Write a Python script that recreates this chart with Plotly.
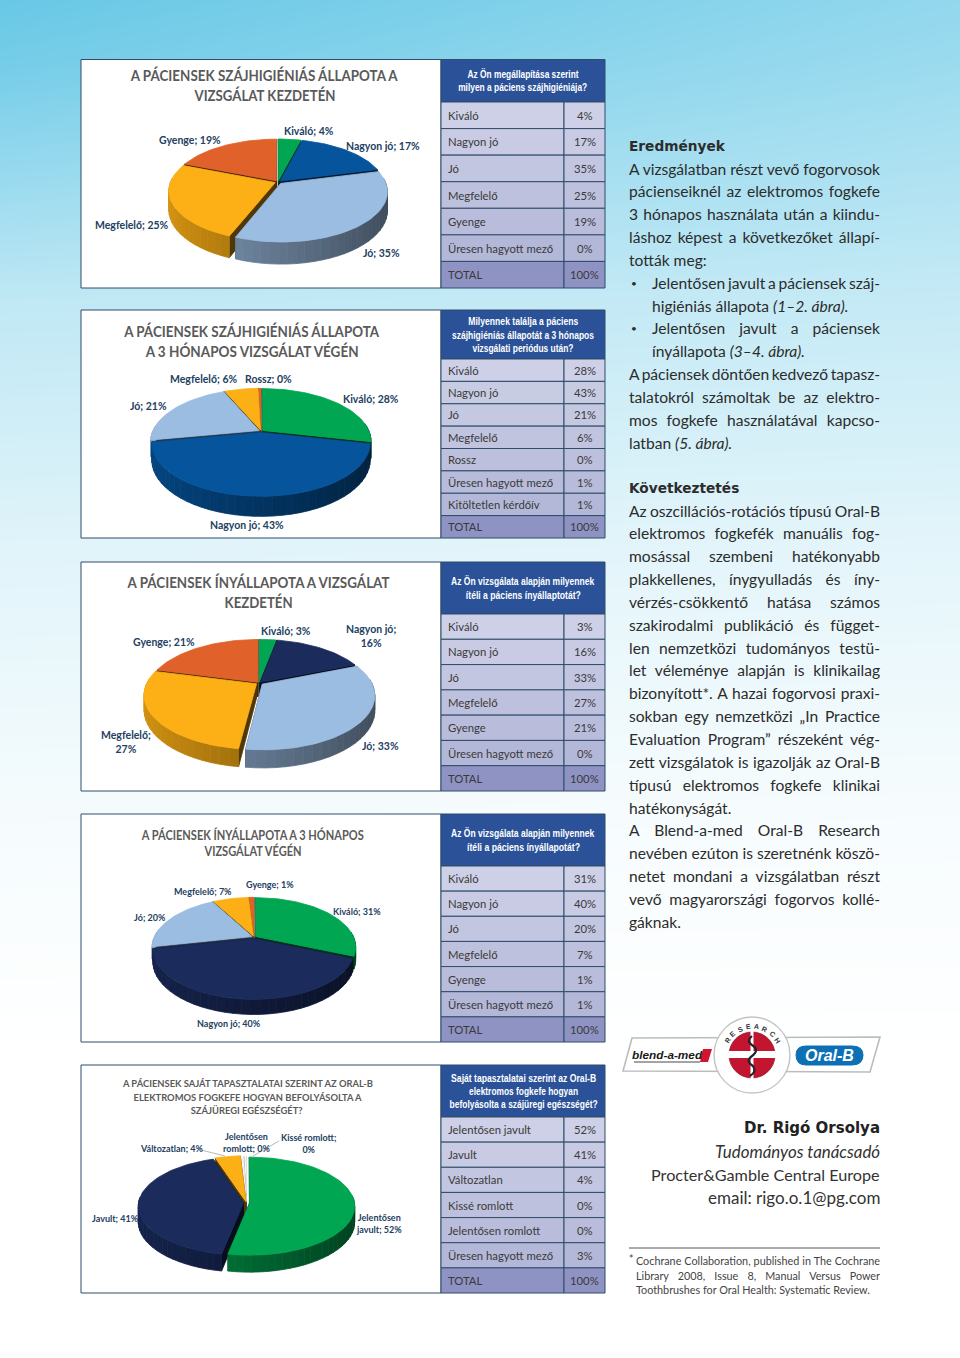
import json
import math
import plotly.graph_objects as go

# ---------- data ----------
C1_CATS = ["Kiváló", "Nagyon jó", "Jó", "Megfelelő", "Gyenge"]
C1_VALS = [4, 17, 35, 25, 19]
C2_CATS = ["Kiváló", "Nagyon jó", "Jó", "Megfelelő", "Rossz"]
C2_VALS = [28, 43, 21, 6, 0]
C3_CATS = ["Kiváló", "Nagyon jó", "Jó", "Megfelelő", "Gyenge"]
C3_VALS = [3, 16, 33, 27, 21]
C4_CATS = ["Kiváló", "Nagyon jó", "Jó", "Megfelelő", "Gyenge"]
C4_VALS = [31, 40, 20, 7, 1]
C5_CATS = ["Jelentősen javult", "Javult", "Változatlan", "Kissé romlott", "Jelentősen romlott"]
C5_VALS = [52, 41, 4, 0, 0]

T1_ROWS = ["Kiváló", "Nagyon jó", "Jó", "Megfelelő", "Gyenge", "Üresen hagyott mező", "TOTAL"]
T1_VALS = ["4%", "17%", "35%", "25%", "19%", "0%", "100%"]
T2_ROWS = ["Kiváló", "Nagyon jó", "Jó", "Megfelelő", "Rossz", "Üresen hagyott mező", "Kitöltetlen kérdőív", "TOTAL"]
T2_VALS = ["28%", "43%", "21%", "6%", "0%", "1%", "1%", "100%"]
T3_ROWS = T1_ROWS
T3_VALS = ["3%", "16%", "33%", "27%", "21%", "0%", "100%"]
T4_ROWS = T1_ROWS
T4_VALS = ["31%", "40%", "20%", "7%", "1%", "1%", "100%"]
T5_ROWS = ["Jelentősen javult", "Javult", "Változatlan", "Kissé romlott", "Jelentősen romlott", "Üresen hagyott mező", "TOTAL"]
T5_VALS = ["52%", "41%", "4%", "0%", "0%", "3%", "100%"]

H1 = [("Az Ön megállapítása szerint", 111), ("milyen a páciens szájhigiéniája?", 129)]
H2 = [("Milyennek találja a páciens", 110), ("szájhigiéniás állapotát a 3 hónapos", 142), ("vizsgálati periódus után?", 101)]
H3 = [("Az Ön vizsgálata alapján milyennek", 143), ("ítéli a páciens ínyállaptotát?", 115)]
H4 = [("Az Ön vizsgálata alapján milyennek", 143), ("ítéli a páciens ínyállapotát?", 113)]
H5 = [("Saját tapasztalatai szerint az Oral-B", 145), ("elektromos fogkefe hogyan", 109), ("befolyásolta a szájüregi egészségét?", 148)]

TITLE1 = [("A PÁCIENSEK SZÁJHIGIÉNIÁS ÁLLAPOTA A", 267), ("VIZSGÁLAT KEZDETÉN", 141)]
TITLE2 = [("A PÁCIENSEK SZÁJHIGIÉNIÁS ÁLLAPOTA", 255), ("A 3 HÓNAPOS VIZSGÁLAT VÉGÉN", 213)]
TITLE3 = [("A PÁCIENSEK ÍNYÁLLAPOTA A VIZSGÁLAT", 262), ("KEZDETÉN", 68)]
TITLE4 = [("A PÁCIENSEK ÍNYÁLLAPOTA A 3 HÓNAPOS", 222), ("VIZSGÁLAT VÉGÉN", 97)]
TITLE5 = [("A PÁCIENSEK SAJÁT TAPASZTALATAI SZERINT AZ ORAL-B", 250),
          ("ELEKTROMOS FOGKEFE HOGYAN BEFOLYÁSOLTA A", 228), ("SZÁJÜREGI EGÉSZSÉGÉT?", 112)]

L1 = [("Kiváló; 4%", 309, 131), ("Nagyon jó; 17%", 383, 146), ("Jó; 35%", 381, 253),
      ("Megfelelő; 25%", 132, 225), ("Gyenge; 19%", 190, 140)]
L2 = [("Kiváló; 28%", 371, 399), ("Nagyon jó; 43%", 247, 525), ("Jó; 21%", 148, 406),
      ("Megfelelő; 6%", 203, 379), ("Rossz; 0%", 268, 379)]
L3 = [("Kiváló; 3%", 286, 631), ("Nagyon jó;<br>16%", 371, 636), ("Jó; 33%", 380, 746),
      ("Megfelelő;<br>27%", 126, 742), ("Gyenge; 21%", 164, 642)]
L4 = [("Kiváló; 31%", 357, 911), ("Nagyon jó; 40%", 229, 1023), ("Jó; 20%", 150, 917),
      ("Megfelelő; 7%", 203, 891), ("Gyenge; 1%", 270, 884)]
L5 = [("Jelentősen<br>javult; 52%", 379, 1223), ("Javult; 41%", 115, 1218), ("Változatlan; 4%", 171, 1148),
      ("Kissé romlott;<br>0%", 308, 1143), ("Jelentősen<br>romlott; 0%", 246, 1142)]

RESULT_LINES = [
    ("A vizsgálatban részt vevő fogorvosok", 1), ("pácienseiknél az elektromos fogkefe", 1),
    ("3 hónapos használata után a kiindu-", 1), ("láshoz képest a következőket állapí-", 1),
    ("tották meg:", 0), ("Jelentősen javult a páciensek száj-", 2), ("higiéniás állapota <i>(1–2. ábra).</i>", 3),
    ("Jelentősen javult a páciensek", 2), ("ínyállapota <i>(3–4. ábra).</i>", 3),
    ("A páciensek döntően kedvező tapasz-", 1), ("talatokról számoltak be az elektro-", 1),
    ("mos fogkefe használatával kapcso-", 1), ("latban <i>(5. ábra).</i>", 0),
]
CONCL_LINES = [
    "Az oszcillációs-rotációs típusú Oral-B", "elektromos fogkefék manuális fog-",
    "mosással szembeni hatékonyabb", "plakkellenes, ínygyulladás és íny-",
    "vérzés-csökkentő hatása számos", "szakirodalmi publikáció és függet-",
    "len nemzetközi tudományos testü-", "let véleménye alapján is klinikailag",
    "bizonyított*. A hazai fogorvosi praxi-", "sokban egy nemzetközi „In Practice",
    "Evaluation Program” részeként vég-", "zett vizsgálatok is igazolják az Oral-B",
    "típusú elektromos fogkefe klinikai", "hatékonyságát.",
    "A Blend-a-med Oral-B Research", "nevében ezúton is szeretnénk köszö-",
    "netet mondani a vizsgálatban részt", "vevő magyarországi fogorvos kollé-", "gáknak.",
]
CONCL_NOJUST = {"hatékonyságát.", "gáknak."}
FOOT_LINES = ["Cochrane Collaboration, published in The Cochrane",
              "Library 2008, Issue 8, Manual Versus Power",
              "Toothbrushes for Oral Health: Systematic Review."]

# background strength stops
BG_Y = [0, 60, 300, 550, 800, 1050, 1358]
BG_LEFT = [1.0, 0.92, 0.42, 0.20, 0.07, 0.0, 0.0]
BG_RIGHT = [0.72, 0.66, 0.38, 0.18, 0.06, 0.0, 0.0]

# ---------- styles ----------
GREEN, BLUE, LIGHT, AMBER, ORANGE, NAVY = "#00a651", "#05549c", "#9cbde2", "#fdb015", "#e0612a", "#1a2b5c"
PALE = "#f4f4f4"
SANS = "Lato"
NARROW = "Liberation Sans"
INK = "#2c2c2c"
LABEL = "#22405f"
BORDER = "#2f4c68"

fig = go.Figure()
ann = []
shapes = []
just = {}
fit = {}


def txt(x, y, s, size, color=INK, family=SANS, anchor="left", angle=0):
    ann.append(dict(x=x, y=y, text=s, xref="x", yref="y", showarrow=False, xanchor=anchor, yanchor="middle",
                    align=anchor, textangle=angle, borderpad=0, font=dict(size=size, color=color, family=family)))


def rgb(h, f=1.0):
    return "rgb(%d,%d,%d)" % tuple(min(255, int(int(h[i:i + 2], 16) * f)) for i in (1, 3, 5))


def poly(xs, ys, color, line=None, lw=0.8, name=None):
    fig.add_trace(go.Scatter(x=xs, y=ys, mode="lines", fill="toself", fillcolor=color, name=name,
                             line=dict(color=line or color, width=lw), hoverinfo="skip", showlegend=False))


def rect(x0, y0, x1, y1, color, line=None, lw=1):
    poly([x0, x1, x1, x0, x0], [y0, y0, y1, y1, y0], color, line, lw)


def pie(vals, cats, colors, cx, cy, rx, top, front, depth, explode):
    p = (front - top) / (front + top)
    ry = top * (1 + p)
    wall = depth * (1 - p)
    drawn = [max(v, 0.45) for v in vals]
    total = sum(drawn)

    def proj(dx, dy, z=0.0):
        s = 1 / (1 - p * dy / ry)
        return cx + dx * s, cy + dy * s + z * s

    start = 0.0
    sl = []
    for v, c, n, e in zip(drawn, colors, cats, explode):
        a0, a1 = start, start + v / total * 2 * math.pi
        start = a1
        sl.append((a0, a1, c, n, e))
    sl.sort(key=lambda s: -math.cos((s[0] + s[1]) / 2))
    for a0, a1, c, n, e in sl:
        mid = (a0 + a1) / 2
        ox, oy = e * math.sin(mid), -e * math.cos(mid) * ry / rx
        pt = lambda a: (ox + rx * math.sin(a), oy - ry * math.cos(a))
        for a in (a0, a1):
            dx, dy = pt(a)
            q = [proj(ox, oy), proj(dx, dy), proj(dx, dy, wall), proj(ox, oy, wall)]
            poly([k[0] for k in q] + [q[0][0]], [k[1] for k in q] + [q[0][1]], rgb(c, 0.32))
        n_seg = max(2, int((a1 - a0) / (2 * math.pi) * 90))
        for i in range(n_seg):
            b0 = a0 + (a1 - a0) * i / n_seg
            b1 = a0 + (a1 - a0) * (i + 1) / n_seg
            if math.cos((b0 + b1) / 2) > 0.12:
                continue
            steps = [b0 + (b1 - b0) * j / 3 for j in range(4)]
            upper = [proj(*pt(b)) for b in steps]
            lower = [proj(*pt(b), wall) for b in reversed(steps)]
            f = 0.62 - 0.22 * math.sin((b0 + b1) / 2)
            q = upper + lower + [upper[0]]
            poly([k[0] for k in q], [k[1] for k in q], rgb(c, f))
        seg = max(3, int((a1 - a0) * 30))
        q = [proj(ox, oy)] + [proj(*pt(a0 + (a1 - a0) * j / seg)) for j in range(seg + 1)] + [proj(ox, oy)]
        poly([k[0] for k in q], [k[1] for k in q], c, name=n)


def table(x0, xm, x1, y0, yh, y1, rows, vals, head):
    nr = len(rows)
    rect(x0, y0, x1, yh, "#2b5298", BORDER, 1)
    mid = (y0 + yh) / 2
    for i, (h, w) in enumerate(head):
        s = "<b>%s</b>" % h
        txt((x0 + x1) / 2, mid + (i - (len(head) - 1) / 2) * 13.4, s, 11, "#ffffff", NARROW, "center")
        fit[s] = w
    rh = (y1 - yh) / nr
    for i, (r, v) in enumerate(zip(rows, vals)):
        t = i / max(1, nr - 2)
        base = "#8f93c4" if r == "TOTAL" else "#%02x%02x%02x" % (int(205 - 25 * t), int(208 - 24 * t), int(230 - 14 * t))
        ya, yb = yh + i * rh, yh + (i + 1) * rh
        rect(x0, ya, xm, yb, base, BORDER, 1)
        rect(xm, ya, x1, yb, base, BORDER, 1)
        txt(x0 + 6, (ya + yb) / 2, r, 11.3, "#3a3a3a")
        txt((xm + x1) / 2, (ya + yb) / 2, v, 11.3, "#3a3a3a", anchor="center")


# ---------- background ----------
fig.add_trace(go.Heatmap(x=[0, 960], y=BG_Y, z=[[a, b] for a, b in zip(BG_LEFT, BG_RIGHT)], zmin=0, zmax=1,
                         zsmooth="best", showscale=False, hoverinfo="skip",
                         colorscale=[[0, "#ffffff"], [1, "#68c8e6"]]))

# ---------- panels ----------
PANELS = [
    dict(y0=59.5, yh=102, y1=288, rows=T1_ROWS, vals=T1_VALS, head=H1, title=TITLE1, tx=264, ty=[75, 95], ts=15,
         cats=C1_CATS, v=C1_VALS, col=[GREEN, BLUE, LIGHT, AMBER, ORANGE], g=(278, 182, 104.8, 42, 58, 22), ex=[3, 3, 4, 3, 3], lab=L1, ls=10.5),
    dict(y0=310, yh=359, y1=538, rows=T2_ROWS, vals=T2_VALS, head=H2, title=TITLE2, tx=251, ty=[331, 351], ts=15,
         cats=C2_CATS, v=C2_VALS, col=[GREEN, BLUE, LIGHT, AMBER, ORANGE], g=(261, 431, 106.4, 42, 63, 20), ex=[2, 3, 2, 2, 2], lab=L2, ls=10.5),
    dict(y0=562, yh=614, y1=791, rows=T3_ROWS, vals=T3_VALS, head=H3, title=TITLE3, tx=258, ty=[582, 602], ts=15,
         cats=C3_CATS, v=C3_VALS, col=[GREEN, NAVY, LIGHT, AMBER, ORANGE], g=(259, 683, 109.6, 43, 65, 18), ex=[2, 2, 4, 3, 2], lab=L3, ls=10.5),
    dict(y0=814, yh=866, y1=1042, rows=T4_ROWS, vals=T4_VALS, head=H4, title=TITLE4, tx=252, ty=[835, 851], ts=12.5,
         cats=C4_CATS, v=C4_VALS, col=[GREEN, NAVY, LIGHT, AMBER, ORANGE], g=(254, 937, 97.9, 39, 60, 15), ex=[2, 3, 2, 2, 2], lab=L4, ls=9),
    dict(y0=1065, yh=1117, y1=1293, rows=T5_ROWS, vals=T5_VALS, head=H5, title=TITLE5, tx=247, ty=[1083, 1097, 1110], ts=9.8,
         cats=C5_CATS, v=C5_VALS, col=[GREEN, NAVY, AMBER, PALE, PALE], g=(246.5, 1203, 105, 46, 52, 17), ex=[3, 3, 3, 2, 2], lab=L5, ls=9),
]

for P in PANELS:
    rect(81, P["y0"], 441, P["y1"], "#ffffff", BORDER, 1)
    table(441, 564, 605, P["y0"], P["yh"], P["y1"], P["rows"], P["vals"], P["head"])
    for (s, w), y in zip(P["title"], P["ty"]):
        b = "<b>%s</b>" % s
        txt(P["tx"], y, b, P["ts"], "#5a5a5a", anchor="center")
        fit[b] = w
    cx, cy, rx, top, front, depth = P["g"]
    pie(P["v"], P["cats"], P["col"], cx, cy, rx, top, front, depth, P["ex"])
    for s, x, y in P["lab"]:
        txt(x, y, "<b>%s</b>" % s, P["ls"], LABEL, anchor="center")

for x0, y0, x1, y1 in [(201, 1150, 225, 1156), (253, 1156, 279, 1141)]:
    shapes.append(dict(type="line", xref="x", yref="y", x0=x0, y0=y0, x1=x1, y1=y1,
                       line=dict(color="#a6a6a6", width=0.8)))

# ---------- right column ----------
TX, TR = 628, 880
BODY = 15.6
txt(TX, 145.5, "<b>Eredmények</b>", 13.7, INK, "DejaVu Sans")
y = 168.5
for s, kind in RESULT_LINES:
    if kind == 1:
        txt(TX, y, s, BODY)
        just[s] = TR - TX - 1
    elif kind == 0:
        txt(TX, y, s, BODY)
    else:
        txt(651, y, s, BODY)
        if kind == 2:
            just[s] = TR - 652
            txt(630, y, "•", 10)
    y += 22.85
txt(TX, 487.5, "<b>Következtetés</b>", 13.7, INK, "DejaVu Sans")
y = 510.5
for s in CONCL_LINES:
    txt(TX, y, s, BODY)
    if s not in CONCL_NOJUST:
        just[s] = TR - TX - 1
    y += 22.85

# ---------- logo ----------
shapes.append(dict(type="path", path="M 623 1071 L 632 1038 L 880 1037 L 870 1072 Z", xref="x", yref="y",
                   fillcolor="#ffffff", line=dict(color="#bcbcbc", width=1.6)))
shapes.append(dict(type="circle", xref="x", yref="y", x0=714, y0=1017, x1=790, y1=1093,
                   fillcolor="#ffffff", line=dict(color="#c4c4c4", width=1.4)))
shapes.append(dict(type="path", path="M 722 1039 L 782 1039 L 782 1071 L 722 1071 Z", xref="x", yref="y",
                   fillcolor="#ffffff", line=dict(width=0)))
shapes.append(dict(type="circle", xref="x", yref="y", x0=729, y0=1032, x1=775, y1=1078,
                   fillcolor="#c3152f", line=dict(color="#8f1022", width=0.8)))
shapes.append(dict(type="rect", xref="x", yref="y", x0=727, y0=1051, x1=777, y1=1058,
                   fillcolor="#ffffff", line=dict(width=0)))
shapes.append(dict(type="rect", xref="x", yref="y", x0=750.5, y0=1031, x1=753.5, y1=1079,
                   fillcolor="#ffffff", line=dict(width=0)))
shapes.append(dict(type="path", path="M 752 1036 Q 746 1041 752 1045 Q 760 1050 752 1056 Q 745 1061 753 1066 Q 757 1072 750 1076",
                   xref="x", yref="y", line=dict(color="#20242a", width=2.2)))
RESEARCH = "RESEARCH"
for i, ch in enumerate(RESEARCH):
    a = math.radians(-58 + i * 116 / (len(RESEARCH) - 1))
    txt(752.5 + 29.5 * math.sin(a), 1056 - 29.5 * math.cos(a), "<b>%s</b>" % ch, 7, "#30343a", "Liberation Sans", "center", math.degrees(a))
txt(667, 1055, "<b><i>blend-a-med</i></b>", 11.8, "#1a1a1a", "Liberation Sans", "center")
shapes.append(dict(type="line", xref="x", yref="y", x0=634, y0=1062, x1=700, y1=1062, line=dict(color="#1a1a1a", width=0.8)))
shapes.append(dict(type="path", path="M 703 1049 L 712 1049 L 708 1062 L 700 1062 Z", xref="x", yref="y",
                   fillcolor="#d2142d", line=dict(width=0)))
shapes.append(dict(type="path", path="M 806 1046 L 852 1046 Q 863 1046 863 1055 Q 863 1065 852 1065 L 806 1065 Q 796 1065 796 1055 Q 796 1046 806 1046 Z",
                   xref="x", yref="y", fillcolor="#0d6fb4", line=dict(color="#0d6fb4", width=1)))
txt(829, 1055.5, "<b><i>Oral-B</i></b>", 16, "#ffffff", "Liberation Sans", "center")

# ---------- signature ----------
RX = 881
txt(RX, 1128, "<b>Dr. Rigó Orsolya</b>", 15, "#222222", "DejaVu Sans", "right")
txt(RX, 1151.5, "<i>Tudományos tanácsadó</i>", 16.9, "#333333", SANS, "right")
txt(RX, 1174, "Procter&amp;Gamble Central Europe", 16.2, "#333333", SANS, "right")
txt(RX, 1197, "email: rigo.o.1@pg.com", 17, "#333333", SANS, "right")
shapes.append(dict(type="line", xref="x", yref="y", x0=629, y0=1248, x1=880, y1=1248, line=dict(color="#444444", width=0.9)))
txt(628, 1259, "*", 10.5, "#444444")
for s, yy in zip(FOOT_LINES, [1260.5, 1275.5, 1289.5]):
    txt(635, yy, s, 10.8, "#444444")
just[FOOT_LINES[0]] = TR - 636
just[FOOT_LINES[1]] = TR - 636

fig.update_layout(
    width=960, height=1358, margin=dict(l=0, r=0, t=0, b=0, pad=0), showlegend=False,
    paper_bgcolor="#ffffff", plot_bgcolor="#ffffff", annotations=ann, shapes=shapes,
    xaxis=dict(range=[0, 960], visible=False, fixedrange=True),
    yaxis=dict(range=[1358, 0], visible=False, fixedrange=True),
)

JS = """
document.body.style.margin='0';
document.body.style.overflow='hidden';
var J=%s, F=%s;
document.querySelectorAll('.annotation-text').forEach(function(el){
  var key=el.getAttribute('data-unformatted');
  var w=J[key];
  if(w){
    var n=(el.textContent.match(/ /g)||[]).length;
    if(n) el.setAttribute('word-spacing',((w-el.getComputedTextLength())/n)+'px');
  }
  if(F[key]){
    el.setAttribute('textLength',F[key]);
    el.setAttribute('lengthAdjust','spacingAndGlyphs');
  }
});
""" % (json.dumps(just, ensure_ascii=False), json.dumps(fit, ensure_ascii=False))

fig.write_html("out.html", config={"displayModeBar": False}, post_script=JS)
